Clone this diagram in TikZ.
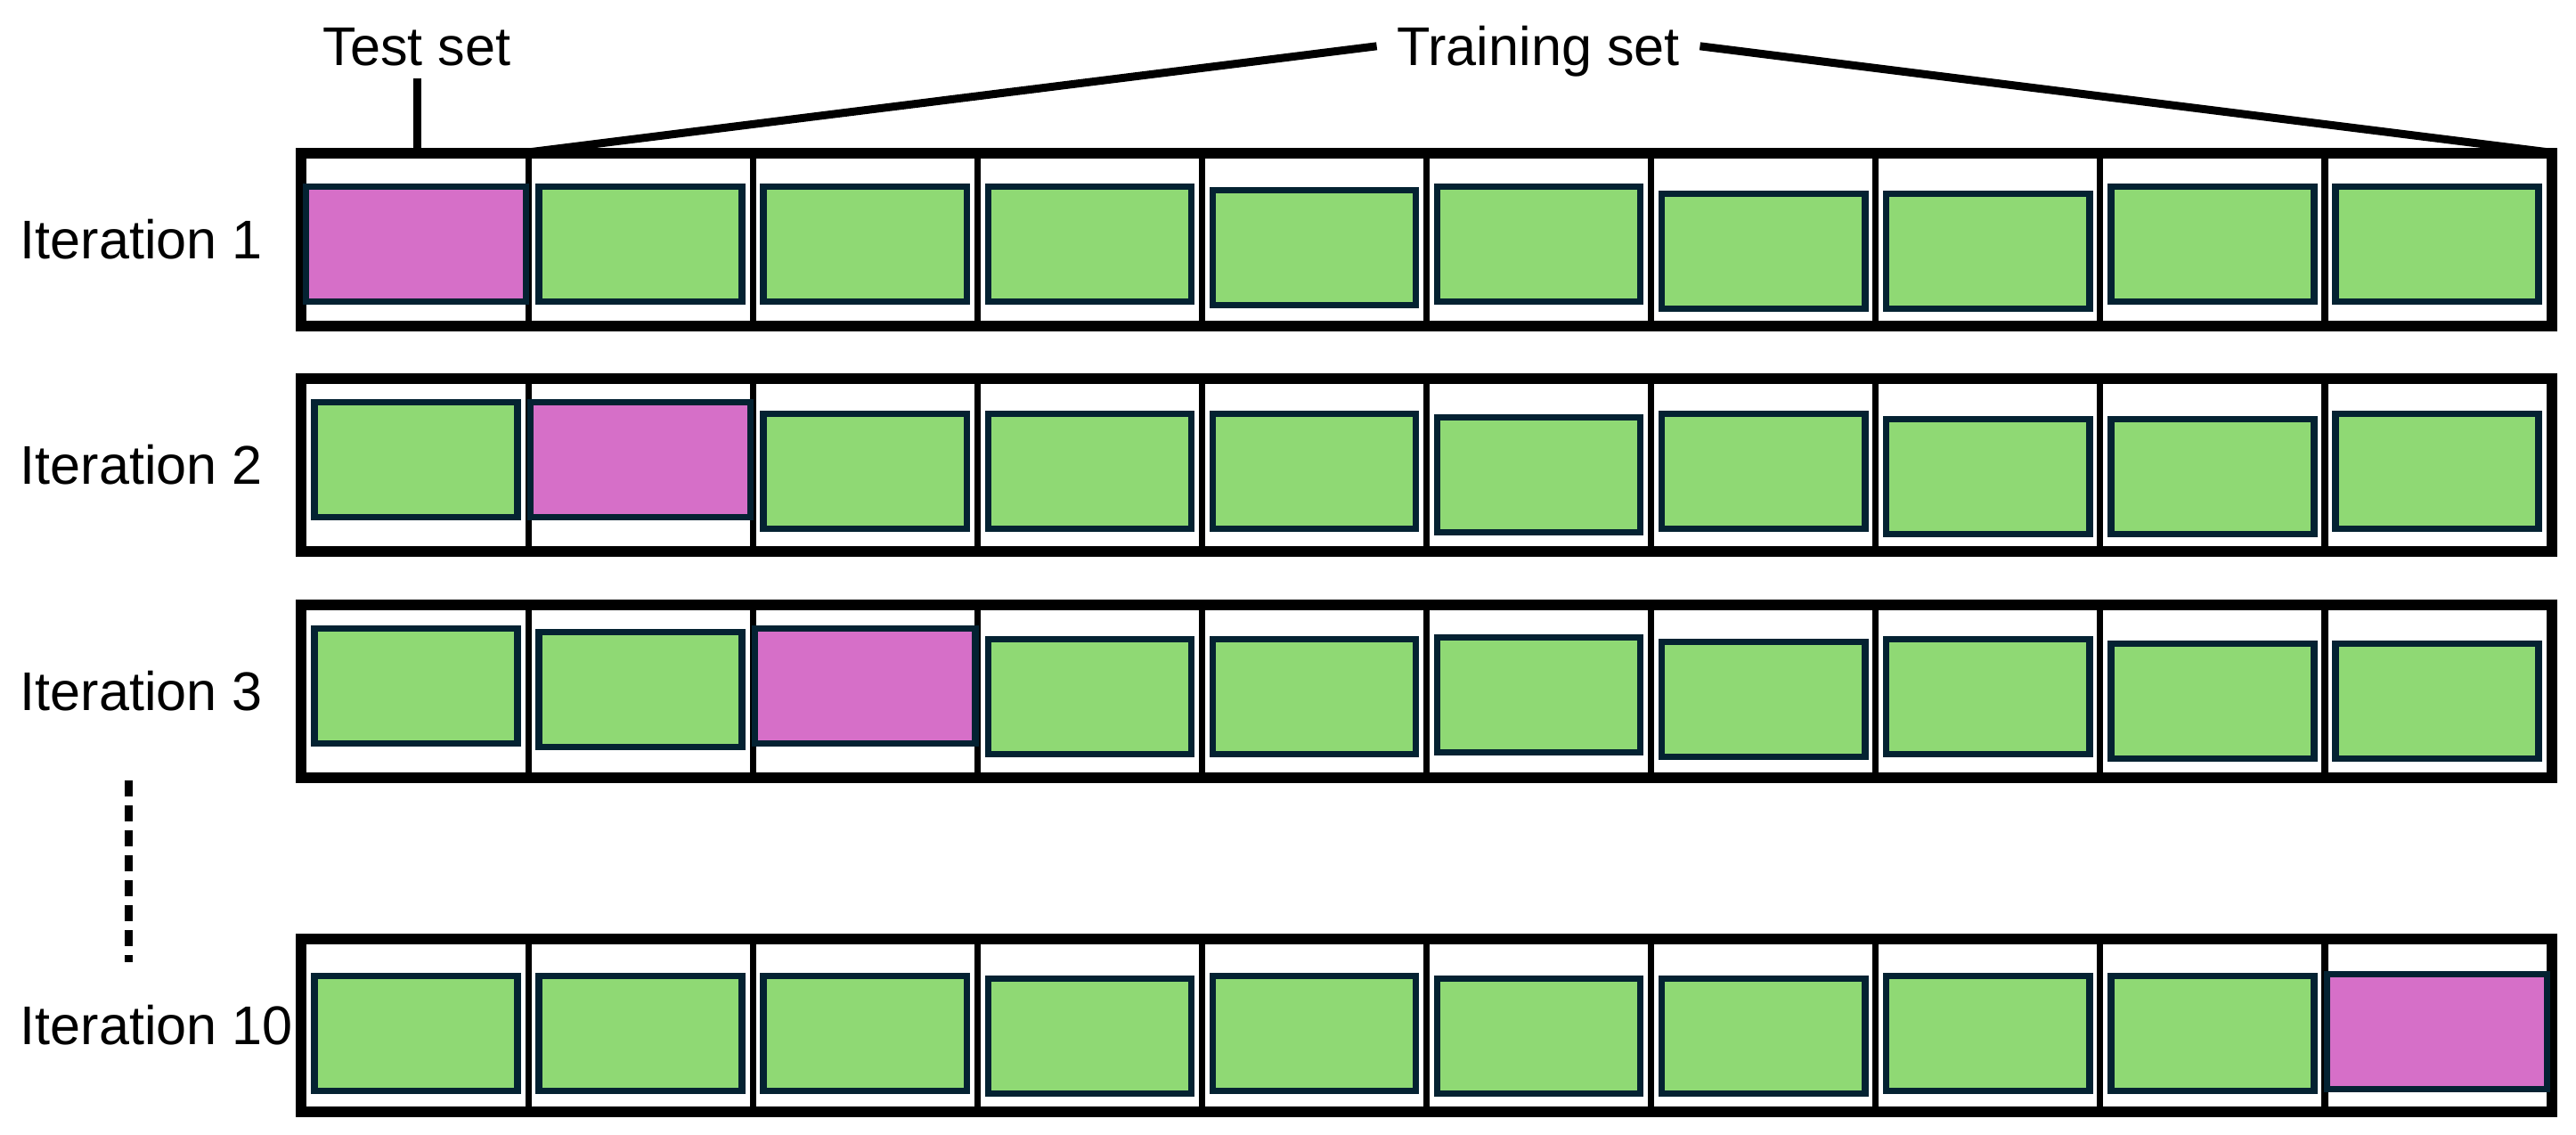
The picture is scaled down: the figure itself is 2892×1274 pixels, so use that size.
\documentclass[tikz,border=0pt]{standalone}
\usepackage{fontspec}
\setmainfont{Liberation Sans}
\definecolor{foldgreen}{RGB}{143,217,116}
\definecolor{foldpink}{RGB}{214,111,200}
\definecolor{foldnavy}{RGB}{4,34,50}
\tikzset{
	cell/.style = {
		shape=rectangle,
		draw,
		line width=0.07cm,
		minimum width=2.521cm,
		minimum height=1.88cm,
		inner sep=0pt
	},
	trainbox/.style = {
		shape=rectangle,
		draw=foldnavy,
		fill=foldgreen,
		line width=0.075cm,
		minimum width=2.28cm,
		minimum height=1.29cm,
		inner sep=0pt
	},
	testbox/.style = {
		trainbox,
		fill=foldpink,
		minimum width=2.47cm
	},
	lbl/.style = {
		inner sep=0pt,
		font=\fontsize{17.4pt}{20pt}\selectfont
	},
	lead/.style = {
		line width=0.09cm
	}
}

\begin{document}
\begin{tikzpicture}[x=0.01cm, y=-0.01cm]
		\useasboundingbox (0,0) rectangle (2892,1274);
		\foreach \r/\y/\k/\tops in {
			1/175/1/{206,206,206,206,210,206,214,214,206,206},
			2/428/2/{448,448,461,461,461,465,461,467,467,461},
			3/682/3/{702,706,702,714,714,712,717,714,719,719},
			4/1057/10/{1092,1092,1092,1095,1092,1095,1095,1092,1092,1090}}
		{
			\foreach \i in {1,...,10}
				\node[cell] (c\r-\i) at ({341+252.1*(\i-0.5)}, \y+94) {};
			\draw[line width=0.1cm] (c\r-1.north west) rectangle (c\r-10.south east);
			\foreach \t [count=\i] in \tops {
				\ifnum\i=\k \def\boxstyle{testbox}\else\def\boxstyle{trainbox}\fi
				\node[\boxstyle] (b\r-\i) at ({341+252.1*(\i-0.5)}, \t+68) {};
			}
			\node[lbl, anchor=west] (it\r) at (22, \y+94) {Iteration \k};
		}
		\node[lbl, anchor=base, text depth=0pt] (testlbl) at (468,74) {Test set};
		\draw[lead, shorten <=0.13cm] (testlbl.south) -- (testlbl.south |- c1-1.north);
		\node[lbl, anchor=base, text depth=0pt, inner xsep=0.22cm] (trainlbl) at (1727,74) {Training set};
		\draw[lead] (c1-2.north west) -- (trainlbl.west);
		\draw[lead] (trainlbl.east) -- (c1-10.north east);
		\coordinate (dtop) at (144,876);
		\coordinate (dbot) at (144,1080);
		\draw[lead, dash pattern=on 0.18cm off 0.1cm] (dtop) -- (dbot);
		\end{tikzpicture}
\end{document}
